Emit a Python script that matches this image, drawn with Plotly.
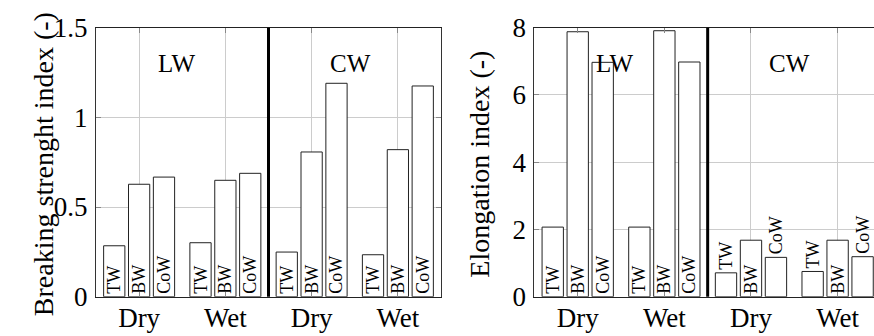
import plotly.graph_objects as go

# ---------------- data ----------------
conditions = ["Dry", "Wet", "Dry", "Wet"]
wood_groups = ["LW", "CW"]
specimens = ["TW", "BW", "CoW"]

strength_TW = [0.284, 0.301, 0.249, 0.234]
strength_BW = [0.627, 0.649, 0.807, 0.820]
strength_CoW = [0.667, 0.688, 1.190, 1.175]

elong_TW = [2.07, 2.07, 0.71, 0.75]
elong_BW = [7.88, 7.91, 1.68, 1.68]
elong_CoW = [6.97, 6.98, 1.17, 1.19]

strength_ticks = [0, 0.5, 1, 1.5]
strength_ticktext = ["0", "0.5", "1", "1.5"]
elong_ticks = [0, 2, 4, 6, 8]
elong_ticktext = ["0", "2", "4", "6", "8"]

# ---------------- style ----------------
W, H = 874, 336
FONT = "'Liberation Serif', 'Times New Roman', serif"
TICK_SIZE = 27
TITLE_SIZE = 28
GROUP_SIZE = 25
BAR_LABEL_SIZE = 18
PLOT_TOP, PLOT_BOTTOM = 27.7, 296.7
PLOT_H = PLOT_BOTTOM - PLOT_TOP
left_dom = [96 / W, 441 / W]
right_dom = [534.4 / W, 1.0]
y_dom = [(H - PLOT_BOTTOM) / H, (H - PLOT_TOP) / H]

xpos = list(range(len(conditions)))

fig = go.Figure()


def label_positions(values, text, ymax):
    # inside (at base) if the rotated label fits in the bar, else above it
    need = 0.78 * BAR_LABEL_SIZE * len(text) + 6
    return ["inside" if v / ymax * PLOT_H >= need else "outside" for v in values]


def add_panel(series, ymax, xa, ya):
    for name, vals in zip(specimens, series):
        fig.add_trace(go.Bar(
            x=xpos, y=vals, name=name, xaxis=xa, yaxis=ya,
            marker=dict(color="white", line=dict(color="#222222", width=1)),
            text=[name] * len(vals),
            textposition=label_positions(vals, name, ymax),
            insidetextanchor="start",
            textangle=-90,
            constraintext="none",
            cliponaxis=False,
            textfont=dict(family=FONT, size=BAR_LABEL_SIZE, color="black"),
            showlegend=False,
            hoverinfo="skip",
        ))


add_panel([strength_TW, strength_BW, strength_CoW], 1.5, "x", "y")
add_panel([elong_TW, elong_BW, elong_CoW], 8, "x2", "y2")

axis_common = dict(
    showline=True, linecolor="#333333", linewidth=1,
    showgrid=True, gridcolor="#cccccc", gridwidth=1,
    ticks="inside", ticklen=5, tickcolor="#888888",
    tickfont=dict(family=FONT, size=TICK_SIZE, color="black"),
    zeroline=False, automargin=False,
)

fig.update_layout(
    width=W, height=H,
    font=dict(family=FONT, color="black"),
    margin=dict(l=0, r=0, t=0, b=0, autoexpand=False),
    paper_bgcolor="white", plot_bgcolor="white",
    barmode="group", bargap=0.135, bargroupgap=0.146,
    xaxis=dict(domain=left_dom, range=[-0.5, 3.5], tickvals=xpos,
               ticktext=conditions, mirror="all", anchor="y",
               ticklabelstandoff=-3, **axis_common),
    yaxis=dict(domain=y_dom, range=[0, 1.5], tickvals=strength_ticks,
               ticktext=strength_ticktext, mirror="all", anchor="x",
               ticklabelstandoff=2, **axis_common),
    xaxis2=dict(domain=right_dom, range=[-0.5, 3.42], tickvals=xpos,
                ticktext=conditions, mirror="all", anchor="y2",
                ticklabelstandoff=-3, **axis_common),
    yaxis2=dict(domain=y_dom, range=[0, 8], tickvals=elong_ticks,
                ticktext=elong_ticktext, mirror=False, anchor="x2",
                ticklabelstandoff=2, **axis_common),
)

# bottom axis lines in black
fig.update_xaxes(linecolor="#222222")

# thick separator between LW and CW groups
for xa, ya in [("x", "y"), ("x2", "y2")]:
    fig.add_shape(type="line", xref=xa, yref=f"{ya} domain", x0=1.5, x1=1.5,
                  y0=0, y1=1, line=dict(color="black", width=3), layer="above")

# group labels
for xa, ya in [("x", "y"), ("x2", "y2")]:
    for g, gx in zip(wood_groups, [0.43, 2.45]):
        fig.add_annotation(text=g, x=gx, y=0.924, xref=xa, yref=f"{ya} domain",
                           showarrow=False,
                           font=dict(family=FONT, size=GROUP_SIZE, color="black"))

# axis titles
fig.add_annotation(text="Breaking strenght index (-)", x=26 / W, y=0.51,
                   xref="paper", yref="paper", textangle=-90, showarrow=False,
                   font=dict(family=FONT, size=TITLE_SIZE, color="black"))
fig.add_annotation(text="Elongation index (-)", x=480 / W, y=0.51,
                   xref="paper", yref="paper", textangle=-90, showarrow=False,
                   font=dict(family=FONT, size=TITLE_SIZE, color="black"))

fig.write_html("out.html")
